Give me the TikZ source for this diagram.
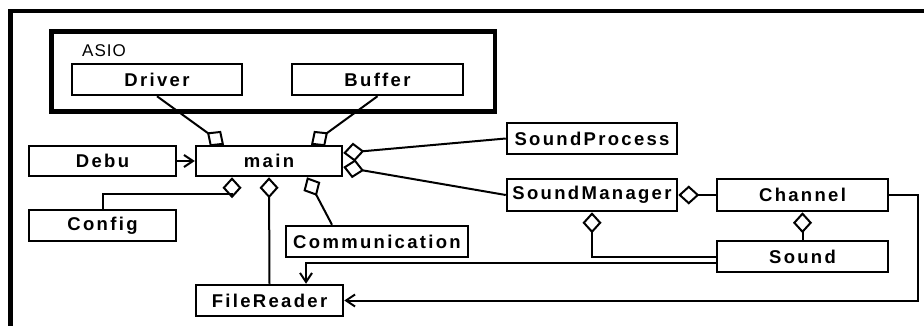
\documentclass[tikz,border=0pt]{standalone}
\usepackage{fontspec}
\setmainfont{Liberation Sans}
\newfontfamily\clsfont[LetterSpace=12.5]{Liberation Sans}
\newfontfamily\pkgfont[LetterSpace=6]{Liberation Sans}
\usetikzlibrary{arrows.meta}
\begin{document}
\begin{tikzpicture}[x=1pt,y=-1pt,
  cls/.style={draw, line width=2.5pt, inner sep=0pt, minimum height=31pt,
    font=\clsfont\bfseries\fontsize{18.5}{20}\selectfont},
  conn/.style={line width=2pt},
  agg/.style={conn, -{Diamond[open,length=21pt,width=19pt]}},
  dep/.style={conn, -{Straight Barb[length=9pt,width=12pt]}},
  frame/.style={line width=4.5pt}]
\useasboundingbox (0,0) rectangle (924,326);
% outer frame
\draw[frame, line join=miter] (10.5,330) -- (10.5,11) -- (930,11);
% ASIO package
\node[draw, frame, inner sep=0pt, minimum width=443.7pt, minimum height=80.2pt] (asio) at (273.2,71.4) {};
\node[anchor=base west, inner sep=0pt, font=\pkgfont\fontsize{17}{19}\selectfont] (asiolabel) at (82,57) {ASIO};
% classes
\node[cls, minimum width=170pt] (driver) at (157,79.5) {Driver};
\node[cls, minimum width=171pt] (buffer) at (377.5,79.5) {Buffer};
\node[cls, minimum width=147pt, minimum height=30pt] (debu) at (102.5,161) {Debu};
\node[cls, minimum width=146pt, minimum height=30pt] (main) at (269,161) {main};
\node[cls, minimum width=147pt] (config) at (102.5,225.5) {Config};
\node[cls, minimum width=182pt] (comm) at (377,241.5) {Communication};
\node[cls, minimum width=147pt] (filereader) at (269.5,300.5) {FileReader};
\node[cls, minimum width=170pt] (soundprocess) at (592,138.5) {SoundProcess};
\node[cls, minimum width=170pt, minimum height=32pt] (soundmanager) at (592,195) {SoundManager};
\node[cls, minimum width=171pt, minimum height=32pt] (channel) at (802.5,195) {Channel};
\node[cls, minimum width=171pt] (sound) at (802.5,256.5) {Sound};
% connectors
\draw[agg] (driver.south) -- ([xshift=-45pt]main.north);
\draw[agg] (buffer.south) -- ([xshift=42pt]main.north);
\draw[dep] (debu.east) -- (main.west);
\draw[agg] (soundprocess.west) -- ([yshift=8pt]main.east);
\draw[agg] (soundmanager.west) -- ([yshift=-6pt]main.east);
\draw[agg] (config.north) |- ([xshift=-37pt,yshift=-17pt]main.south) -- ([xshift=-37pt]main.south);
\draw[agg] (filereader.north) -- (main.south);
\draw[agg] ([xshift=-45pt]comm.north) -- ([xshift=38pt]main.south);
\draw[agg] (channel.west) -- (soundmanager.east);
\draw[agg] (sound.north) -- (channel.south);
\draw[agg] (sound.west) -| (soundmanager.south);
\draw[dep] ([yshift=-6.5pt]sound.west) -| ([xshift=36.5pt]filereader.north);
\draw[dep] (channel.east) -- ++(29,0) |- (filereader.east);
\end{tikzpicture}
\end{document}
